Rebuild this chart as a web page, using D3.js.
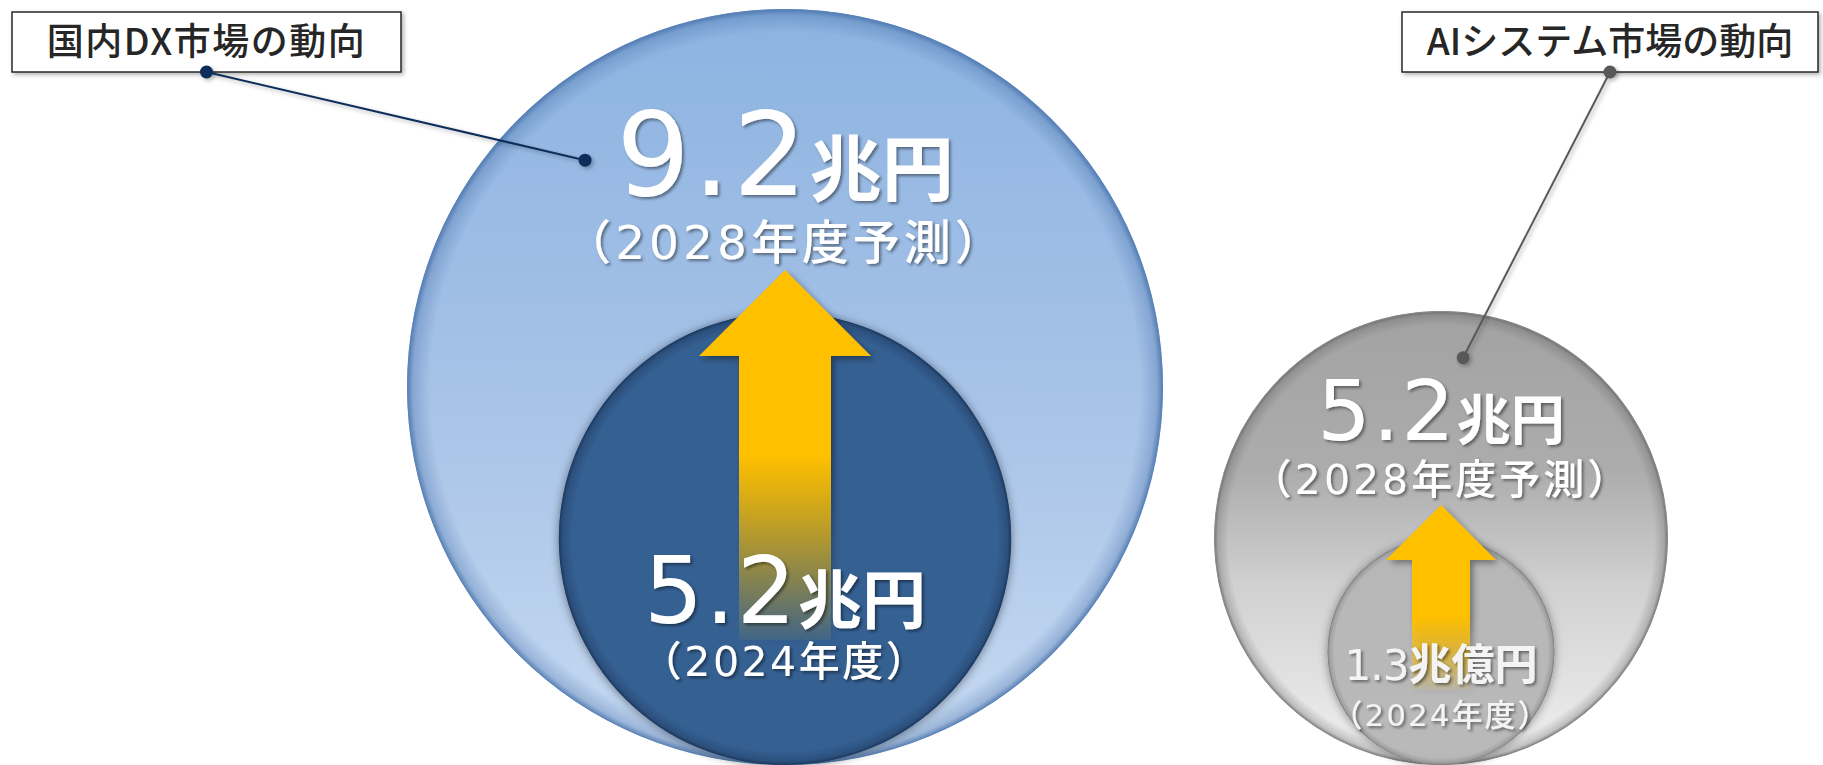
<!DOCTYPE html>
<html>
<head>
<meta charset="utf-8">
<script src="https://cdn.jsdelivr.net/npm/d3@7"></script>
<style>
  body { margin: 0; background: #fff; }
  svg { display: block; font-family: "Noto Sans CJK JP", "Noto Sans", sans-serif; }
  .num { font-family: "DejaVu Sans", "Noto Sans CJK JP", sans-serif; }
</style>
</head>
<body>
<div id="chart"></div>
<script>
// values
const panelNames = ["国内DX市場の動向", "AIシステム市場の動向"];
const forecast2028 = [9.2, 5.2];
const actual2024 = [5.2, 1.3];
const forecastUnits = ["兆円", "兆円"];
const actualUnits = ["兆円", "兆億円"];
const forecastNote = "（2028年度予測）";
const actualNote = "（2024年度）";

const width = 1823, height = 765;
const baseY = 765;

// per panel look
const layout = [
  { outerFill: "gradBlue", outerRim: "rimBlue", outerStroke: "#5a83ba", innerFill: "#366092", innerOpacity: 1, innerRim: "rimDark",
    numSize: 116, unitSize: 72, subSize: 47, inNum: 93, inUnit: 64, inSub: 41, inBase: 142, inColor: "#fff",
    numDrop: 186, subGap: 64, inSubGap: 53,
    numSpace: 3, subSpace: 4, inSpace: 2, inSubSpace: 2.5,
    head: 86, shaft: 46, tipGap: 11, tailGap: 17, fade: 0.5,
    boxX: 12, boxW: 389, pointer: -41.4, lineColor: "#0e2f5a" },
  { outerFill: "gradGray", outerRim: "rimGray", outerStroke: "#8a8a8a", innerFill: "#b9b9b9", innerOpacity: 0.88, innerRim: "rimGray",
    numSize: 84, unitSize: 54, subSize: 41, inNum: 42, inUnit: 43, inSub: 31, inBase: 85, inColor: "#f4f4f4",
    numDrop: 129, subGap: 54, inSubGap: 46,
    numSpace: 2, subSpace: 3, inSpace: -1, inSubSpace: 2,
    head: 55, shaft: 29, tipGap: 11, tailGap: 10, fade: 0.6,
    boxX: 1402, boxW: 416, pointer: 7, lineColor: "#595959" }
];

const x = d3.scalePoint().domain(panelNames).range([785, 1441]);
const rScales = [
  d3.scalePow().exponent(0.9).domain([0, 9.2]).range([0, 378]),
  d3.scaleSqrt().domain([0, 5.2]).range([0, 227])
];
const fmt = d3.format(".1f");

const svg = d3.select("#chart").append("svg")
  .attr("width", width)
  .attr("height", height);

const defs = svg.append("defs");

const lin = (id, stops) => {
  const g = defs.append("linearGradient").attr("id", id)
    .attr("x1", 0).attr("y1", 0).attr("x2", 0).attr("y2", 1);
  stops.forEach(s => g.append("stop").attr("offset", s[0]).attr("stop-color", s[1]));
};
lin("gradBlue", [[0, "#8cb3e1"], [0.5, "#a6c2e7"], [1, "#c7daf2"]]);
lin("gradGray", [[0, "#a2a2a2"], [0.35, "#acacac"], [0.6, "#d0d0d0"], [1, "#f1f1f1"]]);

const rim = (id, color) => {
  const g = defs.append("radialGradient").attr("id", id);
  g.append("stop").attr("offset", 0.94).attr("stop-color", color).attr("stop-opacity", 0);
  g.append("stop").attr("offset", 0.985).attr("stop-color", color).attr("stop-opacity", 0.3);
  g.append("stop").attr("offset", 1).attr("stop-color", color).attr("stop-opacity", 0.75);
};
rim("rimBlue", "#3e69a3");
rim("rimDark", "#14294a");
rim("rimGray", "#5e5e5e");

const shadow = (id, dx, dy, sd, op) => {
  defs.append("filter").attr("id", id)
    .attr("x", "-20%").attr("y", "-20%").attr("width", "140%").attr("height", "140%")
    .append("feDropShadow")
    .attr("dx", dx).attr("dy", dy).attr("stdDeviation", sd)
    .attr("flood-color", "#000").attr("flood-opacity", op);
};
shadow("textShadow", 2, 2, 1.5, 0.45);
shadow("arrowShadow", 3, 3, 3, 0.4);
shadow("circleShadow", 0, 1, 5, 0.45);
shadow("boxShadow", 2, 2, 2, 0.3);

panelNames.forEach((name, i) => {
  const L = layout[i];
  const cx = x(name);
  const rOut = rScales[i](forecast2028[i]);
  const rIn = rScales[i](actual2024[i]);
  const cyOut = baseY - rOut, cyIn = baseY - rIn;
  const g = svg.append("g");

  // outer circle
  g.append("circle").attr("cx", cx).attr("cy", cyOut).attr("r", rOut)
    .attr("fill", `url(#${L.outerFill})`);
  g.append("circle").attr("cx", cx).attr("cy", cyOut).attr("r", rOut - 0.5)
    .attr("fill", `url(#${L.outerRim})`)
    .attr("stroke", L.outerStroke).attr("stroke-width", 1);

  // inner circle
  g.append("circle").attr("cx", cx).attr("cy", cyIn).attr("r", rIn)
    .attr("fill", L.innerFill).attr("fill-opacity", L.innerOpacity)
    .attr("filter", "url(#circleShadow)");
  g.append("circle").attr("cx", cx).attr("cy", cyIn).attr("r", rIn)
    .attr("fill", `url(#${L.innerRim})`);

  // text positions
  const numBase = cyOut - rOut + L.numDrop;
  const subBase = numBase + L.subGap;
  const inNumBase = baseY - L.inBase;
  const inSubBase = inNumBase + L.inSubGap;

  // arrow
  const tip = subBase + L.tipGap;
  const neck = tip + L.head;
  const tail = inNumBase + L.tailGap;
  const ag = defs.append("linearGradient").attr("id", "arrowGrad" + i)
    .attr("gradientUnits", "userSpaceOnUse")
    .attr("x1", cx).attr("x2", cx).attr("y1", tip).attr("y2", tail);
  ag.append("stop").attr("offset", 0).attr("stop-color", "#ffc000");
  ag.append("stop").attr("offset", L.fade).attr("stop-color", "#ffc000");
  ag.append("stop").attr("offset", 1).attr("stop-color", "#ffc000").attr("stop-opacity", 0.05);

  const p = d3.path();
  p.moveTo(cx, tip);
  p.lineTo(cx + L.head, neck);
  p.lineTo(cx + L.shaft, neck);
  p.lineTo(cx + L.shaft, tail);
  p.lineTo(cx - L.shaft, tail);
  p.lineTo(cx - L.shaft, neck);
  p.lineTo(cx - L.head, neck);
  p.closePath();
  g.append("path").attr("d", p.toString())
    .attr("fill", `url(#arrowGrad${i})`)
    .attr("filter", "url(#arrowShadow)");

  // labels
  const outer = g.append("text").attr("x", cx).attr("y", numBase)
    .attr("text-anchor", "middle").attr("fill", "#fff")
    .attr("filter", "url(#textShadow)");
  outer.append("tspan").attr("class", "num").attr("font-size", L.numSize)
    .attr("letter-spacing", L.numSpace).text(fmt(forecast2028[i]));
  outer.append("tspan").attr("font-size", L.unitSize).attr("font-weight", 700)
    .text(forecastUnits[i]);
  g.append("text").attr("class", "num").attr("x", cx).attr("y", subBase)
    .attr("text-anchor", "middle").attr("fill", "#fff")
    .attr("font-size", L.subSize).attr("font-weight", 500)
    .attr("letter-spacing", L.subSpace)
    .attr("filter", "url(#textShadow)")
    .text(forecastNote);

  const inner = g.append("text").attr("x", cx).attr("y", inNumBase)
    .attr("text-anchor", "middle").attr("fill", L.inColor)
    .attr("filter", "url(#textShadow)");
  inner.append("tspan").attr("class", "num").attr("font-size", L.inNum)
    .attr("letter-spacing", L.inSpace).text(fmt(actual2024[i]));
  inner.append("tspan").attr("font-size", L.inUnit).attr("font-weight", 700)
    .text(actualUnits[i]);
  g.append("text").attr("class", "num").attr("x", cx).attr("y", inSubBase)
    .attr("text-anchor", "middle").attr("fill", L.inColor)
    .attr("font-size", L.inSub).attr("font-weight", 500)
    .attr("letter-spacing", L.inSubSpace)
    .attr("filter", "url(#textShadow)")
    .text(actualNote);

  // title box + pointer
  const boxY = 12, boxH = 60;
  const dotX = L.boxX + L.boxW / 2, dotY = boxY + boxH;
  const a = L.pointer * Math.PI / 180;
  const endX = cx + 0.8 * rOut * Math.sin(a);
  const endY = cyOut - 0.8 * rOut * Math.cos(a);

  g.append("rect").attr("x", L.boxX).attr("y", boxY)
    .attr("width", L.boxW).attr("height", boxH)
    .attr("fill", "#fff").attr("stroke", "#262626").attr("stroke-width", 1.5)
    .attr("filter", "url(#boxShadow)");
  g.append("text").attr("x", dotX).attr("y", boxY + boxH / 2 + 13)
    .attr("text-anchor", "middle").attr("fill", "#262626")
    .attr("font-size", 37).attr("font-weight", 500)
    .attr("letter-spacing", i === 0 ? 1.5 : 0)
    .text(name);

  const lead = g.append("g").attr("filter", "url(#boxShadow)");
  lead.append("line").attr("x1", dotX).attr("y1", dotY).attr("x2", endX).attr("y2", endY)
    .attr("stroke", L.lineColor).attr("stroke-width", 2);
  lead.append("circle").attr("cx", dotX).attr("cy", dotY).attr("r", 6.5).attr("fill", L.lineColor);
  lead.append("circle").attr("cx", endX).attr("cy", endY).attr("r", 6.5).attr("fill", L.lineColor);
});
</script>
</body>
</html>
